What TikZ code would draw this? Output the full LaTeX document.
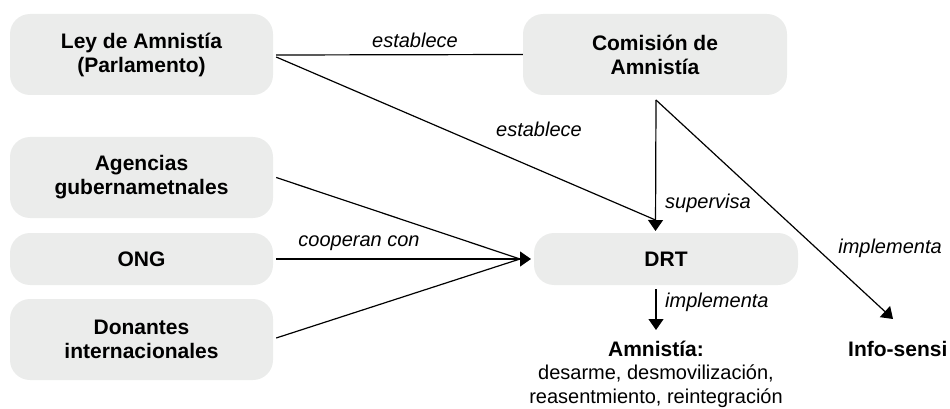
\documentclass[tikz,border=0pt]{standalone}
\usepackage{fontspec}
\setmainfont{Liberation Sans}
\usetikzlibrary{arrows.meta,calc}
\definecolor{boxgray}{RGB}{235,236,235}
\begin{document}
\begin{tikzpicture}[x=1pt,y=-1pt,
  box/.style={fill=boxgray, rounded corners=20pt, minimum width=263pt, align=center,
    font=\fontsize{21}{24}\selectfont\bfseries, inner sep=0pt},
  tallbox/.style={box, minimum height=81pt},
  flatbox/.style={box, minimum height=52pt},
  lbl/.style={font=\fontsize{20}{24}\selectfont\itshape, inner sep=0pt},
  bold/.style={font=\fontsize{21}{24}\selectfont\bfseries, inner sep=0pt},
  plain/.style={font=\fontsize{20}{24}\selectfont, inner sep=0pt, align=center},
  conn/.style={line width=1.2pt, draw=black},
  arr/.style={conn, -{Triangle[width=15pt,length=11pt]}},
]
\useasboundingbox (0,0) rectangle (950,409);
% boxes
\node[tallbox] (ley) at (141.5,54.5) {Ley de Amnistía\\(Parlamento)};
\node[tallbox, minimum width=264pt] (com) at (655,54.5) {Comisión de\\Amnistía};
\node[tallbox] (age) at (141.5,177.5) {Agencias\\gubernametnales};
\node[flatbox] (ong) at (141.5,259) {ONG};
\node[tallbox] (don) at (141.5,339.5) {Donantes\\internacionales};
\node[flatbox, minimum width=264pt] (drt) at (666,259) {DRT};
% free texts
\node[bold] (amn) at (656,349) {Amnistía:};
\node[plain] (amnd) at (656,386) {desarme, desmovilización,\\reasentmiento, reintegración};
\node[bold, anchor=west] (info) at (848,349) {Info-sensi};
% connector end points
\coordinate (drtin) at (655.5,231);
\coordinate (drtinbase) at (655.5,220);
\coordinate (drtw) at (531,259);
\coordinate (drtwbase) at (520,259);
\coordinate (comout) at (656,100);
\coordinate (infoin) at (893,319);
\coordinate (drtout) at (656,289);
\coordinate (amnin) at (656,330);
% connectors
\draw[conn] ($(ley.east)+(3,0.5)$) -- (com.west);
\draw[conn] ($(ley.east)+(3,2.5)$) -- (drtinbase);
\draw[arr] (comout) -- (drtin);
\draw[arr] (comout) -- (infoin);
\draw[conn] ($(age.east)+(3,0)$) -- (drtwbase);
\draw[arr] ($(ong.east)+(3,0)$) -- (drtw);
\draw[conn] ($(don.east)+(3,-1.5)$) -- (drtwbase);
\draw[arr] (drtout) -- (amnin);
% labels
\node[lbl] (l1) at (415,40) {establece};
\node[lbl] (l2) at (539,129) {establece};
\node[lbl, anchor=west] (l3) at (665,203) {supervisa};
\node[lbl] (l4) at (890,248) {implementa};
\node[lbl] (l5) at (359,243) {cooperan con};
\node[lbl, anchor=west] (l6) at (665,302) {implementa};
\end{tikzpicture}
\end{document}
